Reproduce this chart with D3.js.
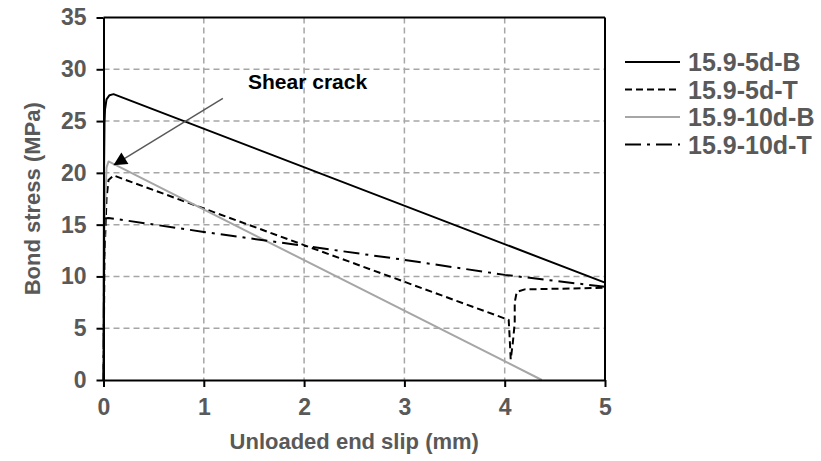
<!DOCTYPE html>
<html>
<head>
<meta charset="utf-8">
<script src="https://cdn.jsdelivr.net/npm/d3@7/dist/d3.min.js"></script>
<style>
  html, body { margin: 0; padding: 0; background: #fff; }
  svg { display: block; }
  text { font-family: "Liberation Sans", Arial, sans-serif; font-weight: bold; }
</style>
</head>
<body>
<svg id="chart" width="821" height="461"></svg>
<script>
// Bond stress vs. unloaded end slip for four pull-out specimens
const seriesNames = ["15.9-5d-B", "15.9-5d-T", "15.9-10d-B", "15.9-10d-T"];

const slip5dB   = [0, 0.005, 0.01, 0.015, 0.03, 0.06, 0.1, 5.0];
const stress5dB = [0, 20.0, 24.8, 26.1, 27.1, 27.5, 27.6, 9.4];

const slip5dT   = [0, 0.01, 0.03, 0.05, 0.1, 4.04, 4.05, 4.06, 4.08, 4.1, 4.1, 4.12, 4.2, 5.0];
const stress5dT = [0, 12.0, 17.5, 19.3, 19.75, 5.8, 4.0, 2.0, 3.5, 5.5, 7.5, 8.5, 8.75, 8.9];

const slip10dB   = [0, 0.01, 0.03, 0.05, 4.37];
const stress10dB = [0, 15.0, 20.5, 21.1, 0];

const slip10dT   = [0, 0.005, 0.01, 0.05, 1, 2, 3, 4, 5];
const stress10dT = [0, 10.0, 15.6, 15.65, 14.3, 12.95, 11.6, 10.15, 9.0];

const xTicks = [0, 1, 2, 3, 4, 5];
const yTicks = [0, 5, 10, 15, 20, 25, 30, 35];

const xLabel = "Unloaded end slip (mm)";
const yLabel = "Bond stress (MPa)";
const noteText = "Shear crack";
// arrow from note toward the peak of 15.9-10d-B
const arrowFrom = [1.19, 27.2];
const arrowTo = [0.11, 20.8];

const styles = [
  { color: "#000000", width: 2, dash: null },
  { color: "#000000", width: 2, dash: "7,4" },
  { color: "#a6a6a6", width: 2, dash: null },
  { color: "#000000", width: 2, dash: "16,6,3,6" }
];

const series = [
  d3.zip(slip5dB, stress5dB),
  d3.zip(slip5dT, stress5dT),
  d3.zip(slip10dB, stress10dB),
  d3.zip(slip10dT, stress10dT)
];

const svg = d3.select("#chart");
const plotLeft = 103.5, plotRight = 605, plotTop = 17.5, plotBottom = 380;

const x = d3.scaleLinear().domain([0, 5]).range([plotLeft, plotRight]);
const y = d3.scaleLinear().domain([0, 35]).range([plotBottom, plotTop]);

const textGray = "#595959";
const fontSize = 22;

// gridlines
const grid = svg.append("g");
grid.selectAll("line.h").data(yTicks.filter(v => v > 0 && v < 35)).join("line")
  .attr("x1", plotLeft).attr("x2", plotRight)
  .attr("y1", d => y(d)).attr("y2", d => y(d))
  .attr("stroke", "#a6a6a6").attr("stroke-width", 1.5).attr("stroke-dasharray", "6,4");
grid.selectAll("line.v").data(xTicks.filter(v => v > 0 && v < 5)).join("line")
  .attr("x1", d => x(d)).attr("x2", d => x(d))
  .attr("y1", plotTop).attr("y2", plotBottom)
  .attr("stroke", "#a6a6a6").attr("stroke-width", 1.5).attr("stroke-dasharray", "6,4");

// series lines
const line = d3.line().x(d => x(d[0])).y(d => y(d[1]));
series.forEach((pts, i) => {
  const s = styles[i];
  svg.append("path")
    .attr("d", line(pts))
    .attr("fill", "none")
    .attr("stroke", s.color)
    .attr("stroke-width", s.width)
    .attr("stroke-linejoin", "round")
    .attr("stroke-dasharray", s.dash);
});

// frame: top and right edges
svg.append("line").attr("x1", plotLeft).attr("x2", plotRight).attr("y1", plotTop).attr("y2", plotTop)
  .attr("stroke", "#000").attr("stroke-width", 2);
svg.append("line").attr("x1", plotRight).attr("x2", plotRight).attr("y1", plotTop).attr("y2", plotBottom)
  .attr("stroke", "#000").attr("stroke-width", 2);

// axes
const xAxis = svg.append("g").attr("transform", `translate(0,${plotBottom})`)
  .call(d3.axisBottom(x).tickValues(xTicks).tickFormat(d3.format("d")).tickSizeInner(7).tickSizeOuter(0).tickPadding(12));
const yAxis = svg.append("g").attr("transform", `translate(${plotLeft},0)`)
  .call(d3.axisLeft(y).tickValues(yTicks).tickFormat(d3.format("d")).tickSizeInner(7).tickSizeOuter(0).tickPadding(10));
[xAxis, yAxis].forEach(g => {
  g.select(".domain").attr("stroke", "#000").attr("stroke-width", 2);
  g.selectAll(".tick line").attr("stroke", "#000").attr("stroke-width", 2);
  g.selectAll(".tick text").attr("fill", textGray)
    .style("font-size", "23px").style("font-weight", "bold")
    .style("font-family", "'Liberation Sans', Arial, sans-serif");
});

// axis titles
svg.append("text").attr("x", (plotLeft + plotRight) / 2).attr("y", 449)
  .attr("text-anchor", "middle").attr("fill", textGray)
  .style("font-size", fontSize + "px").text(xLabel);
svg.append("text")
  .attr("transform", `translate(40,${(plotTop + plotBottom) / 2}) rotate(-90)`)
  .attr("text-anchor", "middle").attr("fill", textGray)
  .style("font-size", fontSize + "px").text(yLabel);

// annotation
svg.append("defs").append("marker")
  .attr("id", "arrowHead").attr("viewBox", "0 0 10 10")
  .attr("refX", 9).attr("refY", 5)
  .attr("markerWidth", 11).attr("markerHeight", 9)
  .attr("markerUnits", "strokeWidth")
  .attr("orient", "auto")
  .append("path").attr("d", "M0,0 L10,5 L0,10 z").attr("fill", "#000");
svg.append("line")
  .attr("x1", x(arrowFrom[0])).attr("y1", y(arrowFrom[1]))
  .attr("x2", x(arrowTo[0])).attr("y2", y(arrowTo[1]))
  .attr("stroke", "#595959").attr("stroke-width", 1.5)
  .attr("marker-end", "url(#arrowHead)");
svg.append("text").attr("x", 248).attr("y", 89)
  .attr("fill", "#000").style("font-size", "21px").text(noteText);

// legend
const legend = svg.append("g");
seriesNames.forEach((name, i) => {
  const yy = 62 + i * 27.5;
  const s = styles[i];
  legend.append("line").attr("x1", 625).attr("x2", 680).attr("y1", yy).attr("y2", yy)
    .attr("stroke", s.color).attr("stroke-width", s.width).attr("stroke-dasharray", s.dash);
  legend.append("text").attr("x", 688).attr("y", yy).attr("dy", "0.36em")
    .attr("fill", textGray).style("font-size", "25px").text(name);
});
</script>
</body>
</html>
